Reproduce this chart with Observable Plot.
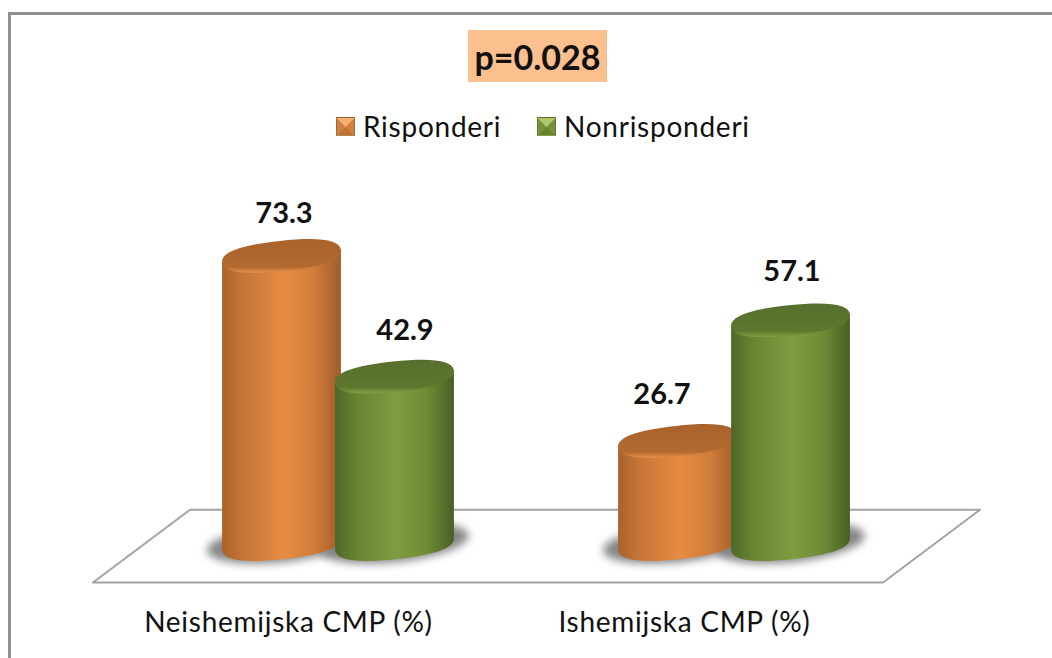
<!DOCTYPE html>
<html>
<head>
<meta charset="utf-8">
<script src="https://cdn.jsdelivr.net/npm/d3@7"></script>
<script src="https://cdn.jsdelivr.net/npm/@observablehq/plot@0.6"></script>
<style>
html,body{margin:0;padding:0;background:#fff;width:1052px;height:658px;overflow:hidden;font-family:Lato,sans-serif;color:#111}
#frame{position:absolute;left:8px;top:12px;right:0;bottom:0;border-left:3px solid #8f8f8f;border-top:3px solid #8f8f8f}
#chart{position:absolute;left:0;top:0}
#chart g[aria-label="x-axis tick label"] text{letter-spacing:.72px}
#pbox{position:absolute;left:468px;top:30px;width:139px;height:52px;background:#fbc08e;font-weight:700;font-size:34px;line-height:54px;text-align:center}
.sw{position:absolute;top:117px;width:19px;height:19px;box-sizing:border-box;border:1px solid rgba(90,70,30,.4)}
.lg{position:absolute;top:108px;font-size:28px;line-height:36px;white-space:nowrap;letter-spacing:.75px}
</style>
</head>
<body>
<svg width="0" height="0" style="position:absolute">
  <defs>
    <linearGradient id="bodyA" x1="0" x2="1" y1="0" y2="0">
      <stop offset="0" stop-color="#a8622c"/><stop offset=".18" stop-color="#c67638"/><stop offset=".52" stop-color="#e78b42"/><stop offset=".78" stop-color="#d07d3b"/><stop offset="1" stop-color="#9e5c2a"/>
    </linearGradient>
    <linearGradient id="bodyB" x1="0" x2="1" y1="0" y2="0">
      <stop offset="0" stop-color="#4c6826"/><stop offset=".18" stop-color="#678533"/><stop offset=".52" stop-color="#7f9c3f"/><stop offset=".78" stop-color="#6e8a36"/><stop offset="1" stop-color="#466022"/>
    </linearGradient>
    <linearGradient id="topA" x1="0" x2="0" y1="0" y2="1">
      <stop offset="0" stop-color="#a9622b"/><stop offset=".82" stop-color="#b26a30"/><stop offset="1" stop-color="#e6904a"/>
    </linearGradient>
    <linearGradient id="topB" x1="0" x2="0" y1="0" y2="1">
      <stop offset="0" stop-color="#566f2c"/><stop offset=".82" stop-color="#5e7830"/><stop offset="1" stop-color="#84a243"/>
    </linearGradient>
    <filter id="soft" x="-30%" y="-60%" width="160%" height="220%"><feGaussianBlur stdDeviation="4"/></filter>
  </defs>
</svg>
<div id="frame"></div>
<div id="chart"></div>
<div id="pbox">p=0.028</div>
<div class="sw" style="left:336px;background:conic-gradient(from -45deg,#f4b070 0 90deg,#d08040 90deg 180deg,#bf7233 180deg 270deg,#d08040 270deg)"></div>
<div class="lg" style="left:363px">Risponderi</div>
<div class="sw" style="left:537px;background:conic-gradient(from -45deg,#aec86e 0 90deg,#76923a 90deg 180deg,#66822f 180deg 270deg,#76923a 270deg)"></div>
<div class="lg" style="left:564px">Nonrisponderi</div>
<script>
const categories = ["Neishemijska CMP (%)", "Ishemijska CMP (%)"];
const risponderi = [73.3, 26.7];
const nonrisponderi = [42.9, 57.1];
const axisTicks = [0, 1];

const rows = [];
categories.forEach((c, i) => {
  rows.push({group: i, series: "A", value: risponderi[i]});
  rows.push({group: i, series: "B", value: nonrisponderi[i]});
});

const offset = 0.1427, half = 0.15, base = 0.75;
const centre = d => d.group + (d.series === "A" ? -offset : offset);
const tiltDeg = 6, minor = 15.2, kappa = 0.66;
const labelShift = {"0A": [2, -43], "0B": [10, -46], "1A": [-16, -47], "1B": [1, -49]};

const cosT = Math.cos(tiltDeg * Math.PI / 180), sinT = Math.sin(tiltDeg * Math.PI / 180);

// Half-outline of a blunt, tilted disc, from one tip to the other through the lower (+1) or upper (-1) side.
function discSide(cx, cy, a, side, fromRight) {
  const p = (u, v) => `${cx + u * cosT + v * sinT} ${cy - u * sinT + v * cosT}`;
  const d = fromRight ? -1 : 1, b = minor * side;
  return `C${p(-d * a, kappa * b)} ${p(-d * kappa * a, b)} ${p(0, b)}` +
         `C${p(d * kappa * a, b)} ${p(d * a, kappa * b)} ${p(d * a, 0)}`;
}

function cylinders(index, scales, values) {
  const g = d3.create("svg:g");
  const {x1, x2, y1, y2} = values;
  for (const i of index) {
    const cx = (x1[i] + x2[i]) / 2, a = (x2[i] - x1[i]) / 2 / cosT;
    g.append("ellipse").attr("cx", cx).attr("cy", y1[i] - 1).attr("rx", a + 15).attr("ry", minor + 4)
      .attr("transform", `rotate(${-tiltDeg} ${cx} ${y1[i]})`)
      .attr("fill", "#858585").attr("filter", "url(#soft)");
  }
  for (const i of index) {
    const s = rows[i].series;
    const cx = (x1[i] + x2[i]) / 2, a = (x2[i] - x1[i]) / 2 / cosT, rise = a * sinT;
    g.append("path").attr("fill", `url(#body${s})`)
      .attr("d", `M${x1[i]} ${y2[i] + rise}L${x2[i]} ${y2[i] - rise}L${x2[i]} ${y1[i] - rise}` +
        discSide(cx, y1[i], a, 1, true) + "Z");
    g.append("path").attr("fill", `url(#top${s})`)
      .attr("d", `M${x1[i]} ${y2[i] + rise}` + discSide(cx, y2[i], a, -1, false) + discSide(cx, y2[i], a, 1, true) + "Z");
  }
  return g.node();
}

const floorOutline = [
  {x: -0.62, y: -8.8}, {x: -0.375, y: 9.5}, {x: 1.62, y: 9.5}, {x: 1.375, y: -8.8}, {x: -0.62, y: -8.8}
];

const plot = Plot.plot({
  width: 1052,
  height: 658,
  marginTop: 0, marginRight: 0, marginBottom: 0, marginLeft: 0,
  style: {background: "transparent", overflow: "visible"},
  x: {type: "linear", domain: [0, 1], range: [338, 734]},
  y: {type: "linear", domain: [0, 100], range: [547, 150], axis: null},
  marks: [
    Plot.line(floorOutline, {x: "x", y: "y", stroke: "#a3a3a3", strokeWidth: 2}),
    Plot.rect(rows, {
      x1: d => centre(d) - half,
      x2: d => centre(d) + half,
      y1: () => base,
      y2: "value",
      render: cylinders
    }),
    ...rows.map(d => Plot.text([d], {
      x: centre,
      y: "value",
      text: r => r.value.toFixed(1),
      dx: labelShift[d.group + d.series][0],
      dy: labelShift[d.group + d.series][1],
      fontSize: 29,
      fontWeight: 700,
      fontFamily: "Lato",
      fill: "#111"
    })),
    Plot.axisX({
      ticks: axisTicks,
      tickFormat: i => categories[i],
      tickSize: 0,
      tickPadding: 0,
      anchor: "bottom",
      lineAnchor: "middle",
      dx: -50,
      dy: -35,
      fontSize: 28,
      fontFamily: "Lato",
      fill: "#111",
      label: null
    })
  ]
});
document.getElementById("chart").appendChild(plot);
</script>
</body>
</html>
